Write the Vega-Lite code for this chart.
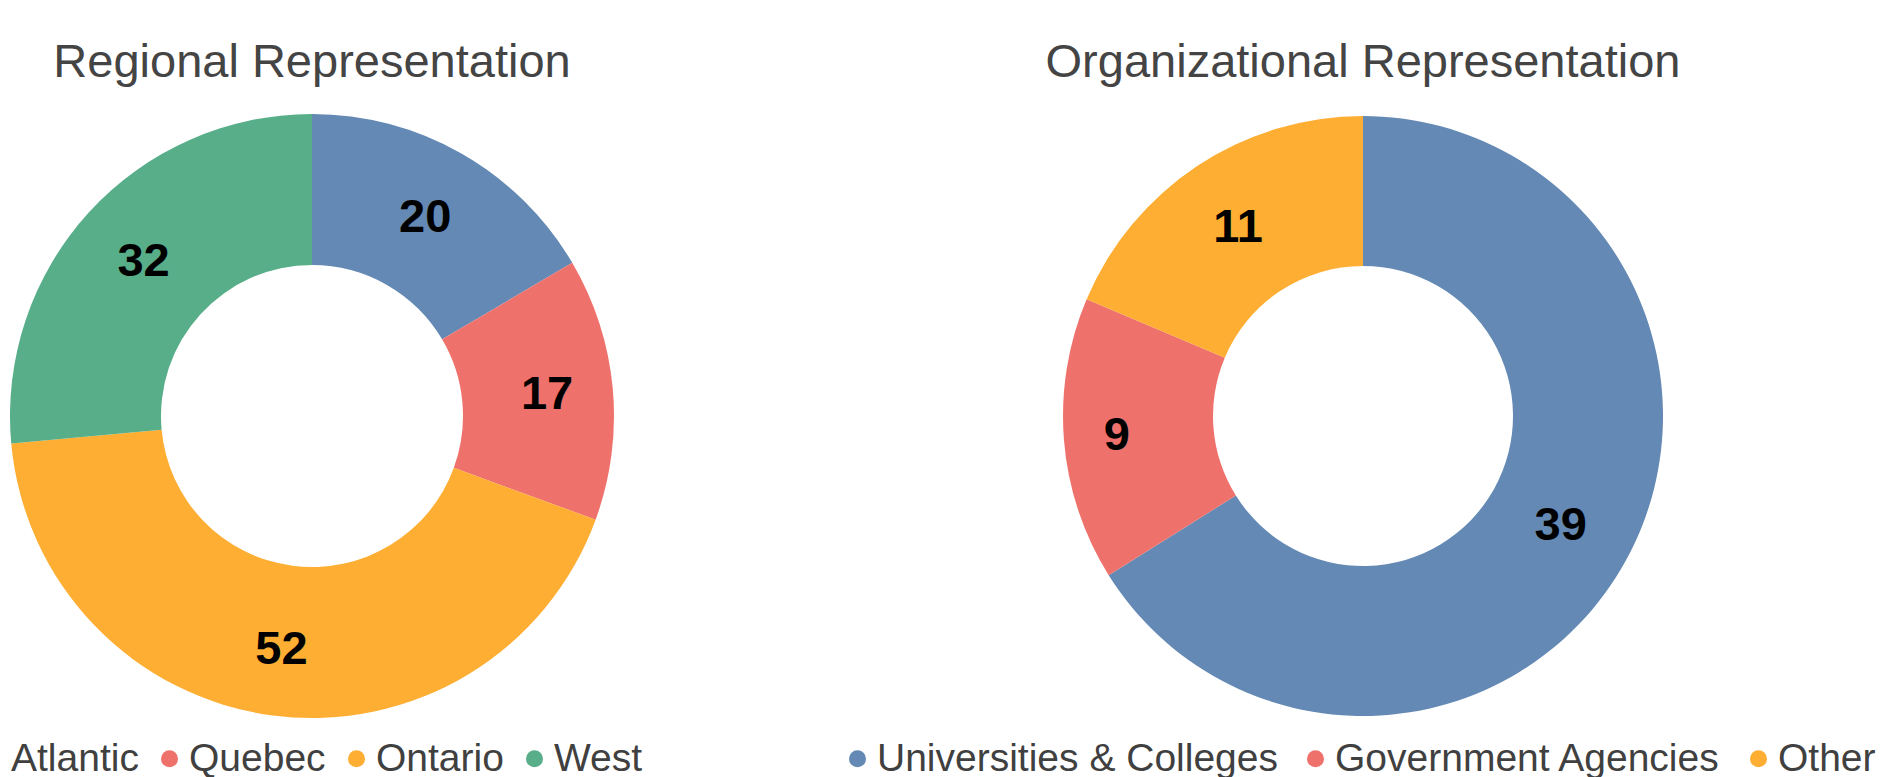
{
  "$schema": "https://vega.github.io/schema/vega-lite/v6.json",
  "background": "white",
  "padding": {"left": -28, "top": 39, "right": 0, "bottom": 0},
  "bounds": "flush",
  "spacing": 447,
  "config": {
    "view": {"stroke": null},
    "font": "Liberation Sans",
    "title": {"font": "Liberation Sans", "fontSize": 47, "fontWeight": "normal", "color": "#444444", "offset": 27, "anchor": "middle", "frame": "group"},
    "legend": {
      "orient": "none",
      "direction": "horizontal",
      "title": null,
      "padding": 0,
      "labelFont": "Liberation Sans",
      "labelFontSize": 39,
      "labelColor": "#404040",
      "labelLimit": 0,
      "symbolType": "circle",
      "symbolSize": 289,
      "symbolStrokeWidth": 0,
      "labelOffset": 0
    }
  },
  "resolve": {"scale": {"color": "independent", "theta": "independent"}},
  "hconcat": [
    {
      "title": "Regional Representation",
      "width": 604,
      "height": 604,
      "data": {"values": [
        {"region": "Atlantic", "count": 20, "order": 1},
        {"region": "Quebec", "count": 17, "order": 2},
        {"region": "Ontario", "count": 52, "order": 3},
        {"region": "West", "count": 32, "order": 4}
      ]},
      "encoding": {
        "theta": {"field": "count", "type": "quantitative", "stack": true},
        "order": {"field": "order", "type": "quantitative"}
      },
      "layer": [
        {
          "mark": {"type": "arc", "outerRadius": 302, "innerRadius": 151},
          "encoding": {
            "color": {
              "field": "region", "type": "nominal",
              "scale": {"domain": ["Atlantic", "Quebec", "Ontario", "West"], "range": ["#6389B4", "#EF716C", "#FDAE33", "#57AE89"]},
              "legend": {"legendX": -38, "legendY": 625, "columnPadding": 11}
            }
          }
        },
        {
          "mark": {"type": "text", "font": "Liberation Sans", "fontWeight": "bold", "fontSize": 47, "color": "black", "baseline": "middle", "align": "center",
            "radius": {"expr": "(datum.region === 'Quebec' || datum.region === 'Ontario') ? 236 : 228"}},
          "encoding": {
            "text": {"field": "count", "type": "quantitative"}
          }
        }
      ]
    },
    {
      "title": "Organizational Representation",
      "width": 604,
      "height": 604,
      "data": {"values": [
        {"organization": "Universities & Colleges", "count": 39, "order": 1},
        {"organization": "Government Agencies", "count": 9, "order": 2},
        {"organization": "Other", "count": 11, "order": 3}
      ]},
      "encoding": {
        "theta": {"field": "count", "type": "quantitative", "stack": true},
        "order": {"field": "order", "type": "quantitative"}
      },
      "layer": [
        {
          "mark": {"type": "arc", "outerRadius": 300, "innerRadius": 150},
          "encoding": {
            "color": {
              "field": "organization", "type": "nominal",
              "scale": {"domain": ["Universities & Colleges", "Government Agencies", "Other"], "range": ["#6389B4", "#EF716C", "#FDAE33"]},
              "legend": {"legendX": -223, "legendY": 625, "columnPadding": 18}
            }
          }
        },
        {
          "mark": {"type": "text", "font": "Liberation Sans", "fontWeight": "bold", "fontSize": 47, "color": "black", "baseline": "middle", "align": "center",
            "radius": {"expr": "datum.organization === 'Government Agencies' ? 247 : 226"}},
          "encoding": {
            "text": {"field": "count", "type": "quantitative"}
          }
        }
      ]
    }
  ]
}
